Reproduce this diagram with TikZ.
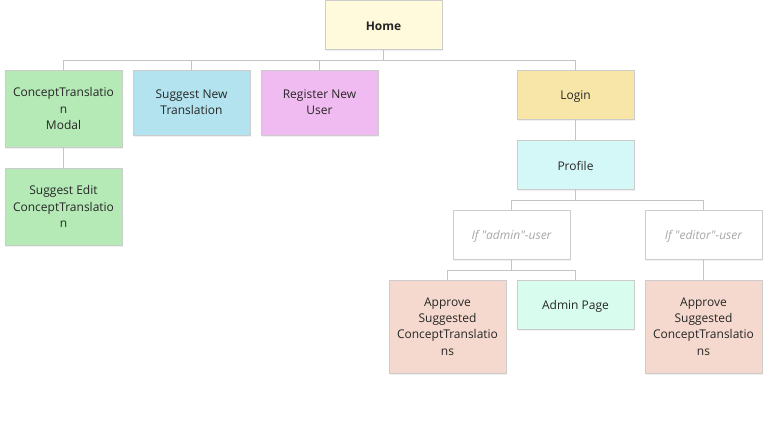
\documentclass[tikz,border=0pt]{standalone}
\usepackage{fontspec}
\setmainfont{Open Sans}[Ligatures=TeXOff]
\usetikzlibrary{shadows}

\definecolor{boxline}{HTML}{CCCCCC}
\definecolor{linegray}{HTML}{C4C4C4}
\definecolor{homefill}{HTML}{FFFADC}
\definecolor{greenfill}{HTML}{B5EAB7}
\definecolor{bluefill}{HTML}{B2E3EE}
\definecolor{pinkfill}{HTML}{F0BBF0}
\definecolor{loginfill}{HTML}{F8E6A8}
\definecolor{profilefill}{HTML}{D4F8F8}
\definecolor{adminfill}{HTML}{D8FCEE}
\definecolor{approvefill}{HTML}{F6D9CE}
\definecolor{condtext}{HTML}{A8A8A8}

\begin{document}
\begin{tikzpicture}[x=1pt,y=-1pt]
\tikzstyle{page}=[draw=boxline, line width=0.8pt, minimum width=117pt, inner sep=0pt,
  align=center, text=black!85, font=\fontsize{12}{16.3}\selectfont,
  execute at begin node={\rule{0pt}{12.5pt}},
  drop shadow={opacity=0.12, shadow xshift=1pt, shadow yshift=-1.5pt}]
\tikzstyle{cond}=[page, fill=white, minimum height=49pt, text=condtext, font=\fontsize{12}{16.3}\selectfont\itshape]
\tikzstyle{link}=[draw=linegray, line width=0.8pt]
\useasboundingbox (0,0) rectangle (773,434);

% top level
\node[page, fill=homefill, minimum height=49pt] (home) at (383.5,24.5) {\bfseries Home};
\node[page, fill=greenfill, minimum height=77pt] (modal) at (63.5,108.5) {ConceptTranslatio\\n\\Modal};
\node[page, fill=bluefill, minimum height=65pt] (suggestnew) at (191.5,102.5) {Suggest New\\Translation};
\node[page, fill=pinkfill, minimum height=65pt] (register) at (319.5,102.5) {Register New\\User};
\node[page, fill=loginfill, minimum height=49pt] (login) at (575.5,94.5) {Login};

% below modal / login
\node[page, fill=greenfill, minimum height=77pt] (suggestedit) at (63.5,206.5) {Suggest Edit\\ConceptTranslatio\\n};
\node[page, fill=profilefill, minimum height=49pt] (profile) at (575.5,164.5) {Profile};

% roles
\node[cond] (ifadmin) at (511.5,234.5) {If "admin"-user};
\node[cond] (ifeditor) at (703.5,234.5) {If "editor"-user};

\node[page, fill=approvefill, minimum height=93pt] (approveadmin) at (447.5,326.5) {Approve\\Suggested\\ConceptTranslatio\\ns};
\node[page, fill=adminfill, minimum height=49pt] (adminpage) at (575.5,304.5) {Admin Page};
\node[page, fill=approvefill, minimum height=93pt] (approveeditor) at (703.5,326.5) {Approve\\Suggested\\ConceptTranslatio\\ns};

% connectors
\foreach \child in {modal,suggestnew,register,login}
  \draw[link] (home.south) -- ++(0,11) -| (\child.north);
\draw[link] (modal.south) -- (suggestedit.north);
\draw[link] (login.south) -- (profile.north);
\foreach \child in {ifadmin,ifeditor}
  \draw[link] (profile.south) -- ++(0,11) -| (\child.north);
\foreach \child in {approveadmin,adminpage}
  \draw[link] (ifadmin.south) -- ++(0,11) -| (\child.north);
\draw[link] (ifeditor.south) -- (approveeditor.north);
\end{tikzpicture}
\end{document}
